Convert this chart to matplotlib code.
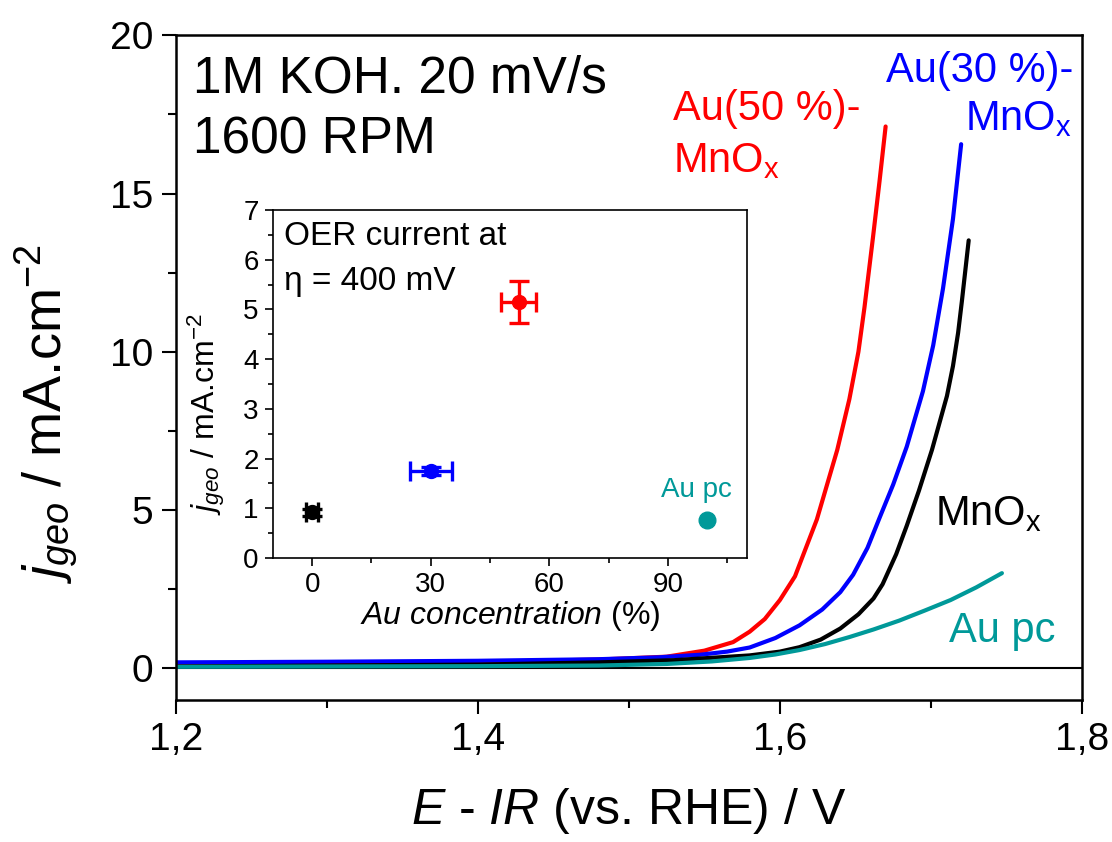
import matplotlib
matplotlib.use("Agg")
import matplotlib.pyplot as plt
from matplotlib.ticker import MultipleLocator, FuncFormatter

plt.rcParams['font.family'] = ['Liberation Sans', 'DejaVu Sans']
plt.rcParams['mathtext.fontset'] = 'custom'
plt.rcParams['mathtext.rm'] = 'Liberation Sans'
plt.rcParams['mathtext.it'] = 'Liberation Sans:italic'
plt.rcParams['mathtext.bf'] = 'Liberation Sans:bold'

# ---- main panel data (E - IR vs RHE / V, j_geo / mA cm^-2) ----
au50_E = [1.20, 1.30, 1.40, 1.48, 1.525, 1.55, 1.569, 1.58, 1.590, 1.600, 1.610, 1.6245, 1.638, 1.646, 1.652, 1.656, 1.6616, 1.666, 1.670]
au50_j = [0.10, 0.14, 0.19, 0.27, 0.36, 0.55, 0.82, 1.15, 1.55, 2.15, 2.90, 4.70, 6.90, 8.50, 10.00, 11.40, 13.60, 15.40, 17.12]

au30_E = [1.20, 1.30, 1.40, 1.48, 1.52, 1.547, 1.565, 1.580, 1.597, 1.613, 1.628, 1.640, 1.6485, 1.658, 1.666, 1.675, 1.684, 1.6947, 1.7015, 1.708, 1.7146, 1.720]
au30_j = [0.18, 0.20, 0.23, 0.28, 0.34, 0.42, 0.52, 0.65, 0.95, 1.35, 1.85, 2.40, 2.95, 3.80, 4.75, 5.80, 7.00, 8.75, 10.20, 12.00, 14.20, 16.56]

mnox_E = [1.20, 1.30, 1.40, 1.48, 1.53, 1.58, 1.600, 1.613, 1.627, 1.640, 1.652, 1.662, 1.668, 1.677, 1.684, 1.692, 1.7007, 1.7106, 1.7146, 1.718, 1.7205, 1.725]
mnox_j = [0.05, 0.08, 0.11, 0.18, 0.25, 0.40, 0.52, 0.66, 0.90, 1.25, 1.70, 2.20, 2.65, 3.60, 4.50, 5.60, 6.90, 8.60, 9.55, 10.60, 11.60, 13.52]

aupc_E = [1.20, 1.30, 1.40, 1.48, 1.525, 1.555, 1.580, 1.597, 1.613, 1.630, 1.646, 1.662, 1.679, 1.696, 1.713, 1.730, 1.747]
aupc_j = [0.04, 0.05, 0.06, 0.08, 0.13, 0.21, 0.32, 0.43, 0.57, 0.76, 0.98, 1.22, 1.50, 1.82, 2.15, 2.55, 3.00]

# ---- inset data ----
inset_x = [0.0, 30.0, 52.3, 100.0]
inset_y = [0.92, 1.75, 5.15, 0.76]
inset_xerr = [1.5, 5.3, 4.4, 0.0]
inset_yerr = [0.07, 0.08, 0.42, 0.0]

RED = '#ff0000'
BLUE = '#0000ff'
BLACK = '#000000'
TEAL = '#009999'

fig = plt.figure(figsize=(11.12, 8.42), dpi=100)
ax = fig.add_axes([0.158, 0.169, 0.815, 0.789])

lw = 3.0
for E, j, c in [(au50_E, au50_j, RED), (au30_E, au30_j, BLUE), (mnox_E, mnox_j, BLACK), (aupc_E, aupc_j, TEAL)]:
    ax.plot(E, j, color=c, lw=lw, solid_capstyle='round', solid_joinstyle='round')
ax.axhline(0, color='black', lw=1.5, zorder=0)

ax.set_xlim(1.2, 1.8)
ax.set_ylim(-1, 20)
ax.xaxis.set_major_locator(MultipleLocator(0.2))
ax.xaxis.set_minor_locator(MultipleLocator(0.1))
ax.yaxis.set_major_locator(MultipleLocator(5))
ax.yaxis.set_minor_locator(MultipleLocator(2.5))
ax.xaxis.set_major_formatter(FuncFormatter(lambda v, p: f"{v:.1f}".replace('.', ',')))
ax.yaxis.set_major_formatter(FuncFormatter(lambda v, p: f"{v:.0f}"))
ax.tick_params(axis='both', which='major', direction='out', length=10, width=1.5, labelsize=28, pad=6)
ax.tick_params(axis='both', which='minor', direction='out', length=5.5, width=1.5)
ax.tick_params(top=False, right=False, which='both')
for s in ax.spines.values():
    s.set_linewidth(1.8)

ax.set_xlabel(r'$\mathit{E}$ - $\mathit{IR}$ (vs. RHE) / V', fontsize=36, labelpad=20)
ax.set_ylabel(r'$\mathit{j}_{\mathit{geo}}$ / mA.cm$^{-2}$', fontsize=39)
ax.yaxis.set_label_coords(-0.104, 0.43)

ax.text(1.2117, 18.2, '1M KOH. 20 mV/s', fontsize=37, va='baseline', ha='left')
ax.text(1.2117, 16.27, '1600 RPM', fontsize=37, va='baseline', ha='left')

lab = 30
ax.text(1.529, 17.31, 'Au(50 %)-', color=RED, fontsize=lab, va='baseline', ha='left')
ax.text(1.529, 15.68, 'MnO$_\\mathrm{x}$', color=RED, fontsize=lab, va='baseline', ha='left')
ax.text(1.794, 18.52, 'Au(30 %)-', color=BLUE, fontsize=lab, va='baseline', ha='right')
ax.text(1.7934, 17.0, 'MnO$_\\mathrm{x}$', color=BLUE, fontsize=lab, va='baseline', ha='right')
ax.text(1.7026, 4.52, 'MnO$_\\mathrm{x}$', color=BLACK, fontsize=lab, va='baseline', ha='left')
ax.text(1.7121, 0.83, 'Au pc', color=TEAL, fontsize=lab, va='baseline', ha='left')

# ---- inset ----
ins = fig.add_axes([0.2452, 0.3373, 0.4265, 0.4133])
colors = [BLACK, BLUE, RED, TEAL]
for i in range(len(inset_x)):
    if inset_xerr[i] > 0 or inset_yerr[i] > 0:
        ins.errorbar(inset_x[i], inset_y[i], xerr=inset_xerr[i], yerr=inset_yerr[i], fmt='o',
                     color=colors[i], ms=10, elinewidth=2.4, capsize=7, capthick=2.4)
    else:
        ins.plot(inset_x[i], inset_y[i], 'o', color=colors[i], ms=12)
ins.set_xlim(-10, 110)
ins.set_ylim(0, 7)
ins.xaxis.set_major_locator(MultipleLocator(30))
ins.xaxis.set_minor_locator(MultipleLocator(15))
ins.yaxis.set_major_locator(MultipleLocator(1))
ins.yaxis.set_minor_locator(MultipleLocator(0.5))
ins.tick_params(axis='both', which='major', direction='out', length=6, width=1.2, labelsize=20, pad=4)
ins.tick_params(axis='both', which='minor', direction='out', length=3.5, width=1.2)
ins.tick_params(top=False, right=False, which='both')
for s in ins.spines.values():
    s.set_linewidth(1.2)
ins.set_xlabel(r'$\mathit{Au\ concentration}$ (%)', fontsize=23, labelpad=1)
ins.set_ylabel(r'$\mathit{j}_{\mathit{geo}}$ / mA.cm$^{-2}$', fontsize=23)
ins.yaxis.set_label_coords(-0.096, 0.414)
ins.text(-7.1, 6.30, 'OER current at', fontsize=24, va='baseline', ha='left')
ins.text(-7.1, 5.39, '\u03b7 = 400 mV', fontsize=24, va='baseline', ha='left')
ins.text(97.2, 1.37, 'Au pc', color=TEAL, fontsize=20, ha='center', va='center')

fig.savefig('out.png', dpi=100)
